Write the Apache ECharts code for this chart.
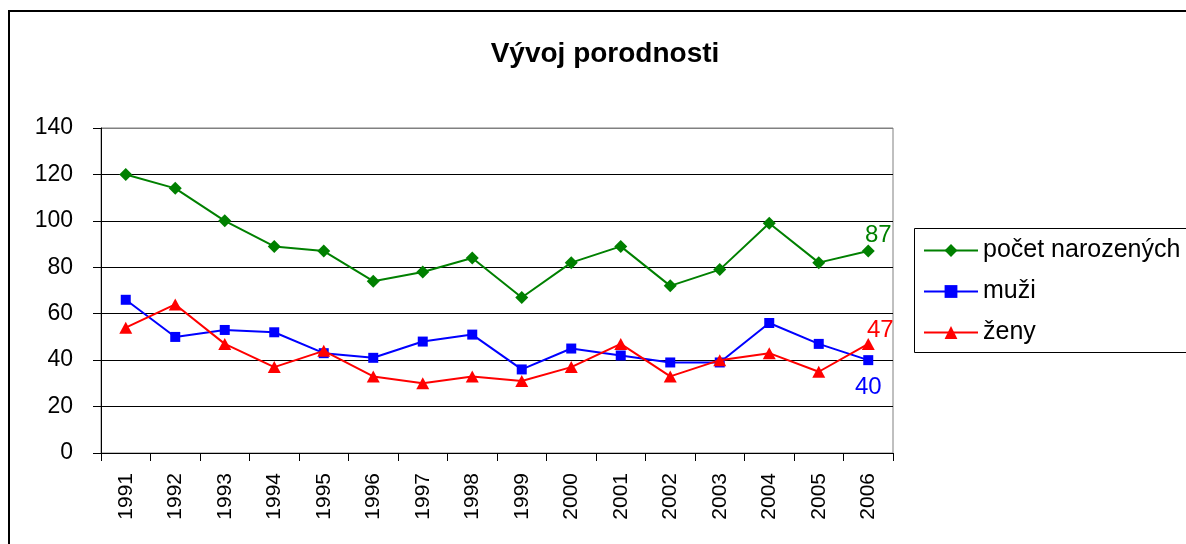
<!DOCTYPE html>
<html>
<head>
<meta charset="utf-8">
<script src="https://cdn.jsdelivr.net/npm/echarts@6/dist/echarts.min.js"></script>
<style>
  html, body { margin: 0; padding: 0; background: #fff; }
  #chart { width: 1186px; height: 544px; }
</style>
</head>
<body>
<div id="chart"></div>
<script>
var years = ["1991", "1992", "1993", "1994", "1995", "1996", "1997", "1998",
  "1999", "2000", "2001", "2002", "2003", "2004", "2005", "2006"];
var pocet = [120, 114, 100, 89, 87, 74, 78, 84, 67, 82, 89, 72, 79, 99, 82, 87];
var muzi = [66, 50, 53, 52, 43, 41, 48, 51, 36, 45, 42, 39, 39, 56, 47, 40];
var zeny = [54, 64, 47, 37, 44, 33, 30, 33, 31, 37, 47, 33, 40, 43, 35, 47];
var yTicks = [0, 20, 40, 60, 80, 100, 120, 140];

var font = "'Liberation Sans', Arial, sans-serif";
var chart = echarts.init(document.getElementById("chart"));

// only the last point gets a value label
function lastLabel(data, opts) {
  return data.map(function (v, i) {
    if (i !== data.length - 1) return v;
    return { value: v, label: Object.assign({ show: true, fontSize: 24, fontFamily: font }, opts) };
  });
}

chart.setOption({
  backgroundColor: "#fff",
  animation: false,
  title: {
    text: "Vývoj porodnosti",
    left: 600,
    textAlign: "center",
    top: 35,
    textStyle: { fontSize: 28, fontWeight: "bold", color: "#000", fontFamily: font },
  },
  graphic: [
    {
      type: "rect",
      shape: { x: 9, y: 11, width: 1400, height: 700 },
      style: { fill: null, stroke: "#000", lineWidth: 2 },
      z: 10,
    },
    {
      type: "rect",
      shape: { x: 914.5, y: 228.5, width: 400, height: 124 },
      style: { fill: "#fff", stroke: "#000", lineWidth: 1 },
      z: 0,
    },
  ],
  legend: {
    orient: "vertical",
    left: 918,
    top: 233,
    itemWidth: 54,
    itemHeight: 16,
    itemGap: 16,
    textStyle: { fontSize: 25, color: "#000", fontFamily: font },
    data: ["počet narozených", "muži", "ženy"],
    z: 5,
  },
  grid: {
    left: 101,
    right: 293,
    top: 128,
    bottom: 91,
    show: true,
    borderColor: "#808080",
    borderWidth: 1,
  },
  xAxis: {
    type: "category",
    data: years,
    boundaryGap: true,
    axisLine: { lineStyle: { color: "#000", width: 1 } },
    axisTick: { show: true, length: 8, inside: false, lineStyle: { color: "#000" } },
    axisLabel: { rotate: 90, fontSize: 21, color: "#000", fontFamily: font, margin: 20 },
  },
  yAxis: {
    type: "value",
    min: yTicks[0],
    max: yTicks[yTicks.length - 1],
    interval: 20,
    axisLine: { show: true, lineStyle: { color: "#000", width: 1 } },
    axisTick: { show: true, length: 8, lineStyle: { color: "#000" } },
    axisLabel: { fontSize: 23, color: "#000", fontFamily: font, margin: 28 },
    splitLine: {
      show: true,
      lineStyle: { color: ["#000", "#000", "#000", "#000", "#000", "#000", "#000", "#808080"], width: 1 },
    },
  },
  series: [
    {
      name: "počet narozených",
      type: "line",
      data: lastLabel(pocet, { position: "top", offset: [10, 8], color: "#008000" }),
      symbol: "diamond",
      symbolSize: 13,
      color: "#008000",
      lineStyle: { width: 2, color: "#008000" },
      itemStyle: { color: "#008000" },
      z: 3,
    },
    {
      name: "muži",
      type: "line",
      data: lastLabel(muzi, { position: "bottom", offset: [0, 5], color: "#0000ff" }),
      symbol: "rect",
      symbolSize: 10,
      color: "#0000ff",
      lineStyle: { width: 2, color: "#0000ff" },
      itemStyle: { color: "#0000ff" },
      z: 4,
    },
    {
      name: "ženy",
      type: "line",
      data: lastLabel(zeny, { position: "top", offset: [12, 9], color: "#ff0000" }),
      symbol: "triangle",
      symbolSize: [13, 12],
      color: "#ff0000",
      lineStyle: { width: 2, color: "#ff0000" },
      itemStyle: { color: "#ff0000" },
      z: 5,
    },
  ],
});
</script>
</body>
</html>
